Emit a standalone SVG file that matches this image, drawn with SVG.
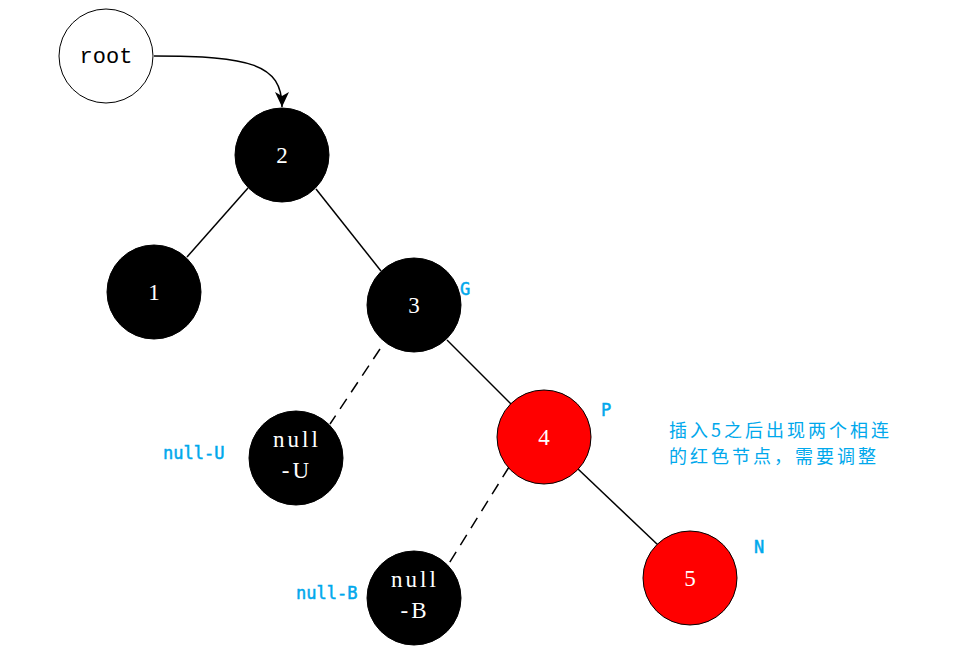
<svg xmlns="http://www.w3.org/2000/svg" width="956" height="654" viewBox="0 0 956 654">
<defs>
<marker id="ah" markerWidth="16" markerHeight="16" refX="15" refY="7" orient="auto" markerUnits="userSpaceOnUse"><path d="M0,0 L15,7 L0,14 L4,7 Z" fill="#000"/></marker>
<style>
.n circle{stroke:#000;stroke-width:1}
.b{fill:#000}.r{fill:#ff0000}.w{fill:#fff}
.t{font-family:"Liberation Serif","Noto Serif",serif;font-size:23px;fill:#fff;text-anchor:middle}
.nl{letter-spacing:3px;font-size:23px}
.lb{font-family:"DejaVu Sans Mono","Noto Sans CJK SC",monospace;font-size:17px;fill:#00a8ec;stroke:#00a8ec;stroke-width:0.5}
.cn{font-family:"Noto Sans CJK SC",sans-serif;font-size:18px;letter-spacing:3px;fill:#00a8ec}
.e{stroke:#000;stroke-width:1.5;fill:none}
.d{stroke-dasharray:12,8}
</style>
</defs>
<rect width="956" height="654" fill="#fff"/>
<g id="connectors">
<path class="e" d="M154,56 C250,56 282,64 282,107" marker-end="url(#ah)" stroke-width="2"/>
<line class="e" x1="248" y1="188" x2="187" y2="257"/>
<line class="e" x1="316" y1="189" x2="381" y2="271"/>
<line class="e d" x1="380" y1="349" x2="330" y2="424"/>
<line class="e" x1="447" y1="340" x2="511" y2="404"/>
<line class="e d" x1="509" y1="467" x2="448" y2="565"/>
<line class="e" x1="578" y1="469" x2="658" y2="545"/>
</g>
<g id="node-root" class="n"><circle cx="106" cy="56" r="47" class="w"/><text x="106" y="63" class="t" style="fill:#000;font-family:'Liberation Mono',monospace;font-size:22px">root</text></g>
<g id="node-2" class="n"><circle cx="282" cy="155" r="47" class="b"/><text x="282" y="163" class="t">2</text></g>
<g id="node-1" class="n"><circle cx="154" cy="292" r="47" class="b"/><text x="154" y="300" class="t">1</text></g>
<g id="node-3" class="n"><circle cx="414" cy="305" r="47" class="b"/><text x="414" y="313" class="t">3</text></g>
<g id="node-nullU" class="n"><circle cx="296" cy="458" r="47" class="b"/><text x="297" y="447" class="t nl">null</text><text x="297" y="478" class="t nl">-U</text></g>
<g id="node-4" class="n"><circle cx="544" cy="437" r="47" class="r"/><text x="544" y="445" class="t">4</text></g>
<g id="node-nullB" class="n"><circle cx="414" cy="598" r="47" class="b"/><text x="415" y="587" class="t nl">null</text><text x="415" y="618" class="t nl">-B</text></g>
<g id="node-5" class="n"><circle cx="690" cy="578" r="47" class="r"/><text x="690" y="586" class="t">5</text></g>
<g id="labels">
<text x="460" y="295" class="lb">G</text>
<text x="601" y="416" class="lb">P</text>
<text x="754" y="553" class="lb">N</text>
<text x="163" y="459" class="lb">null-U</text>
<text x="296" y="599" class="lb">null-B</text>
<text x="669" y="437" class="cn">插入5之后出现两个相连</text>
<text x="669" y="463" class="cn">的红色节点，需要调整</text>
</g>
</svg>
